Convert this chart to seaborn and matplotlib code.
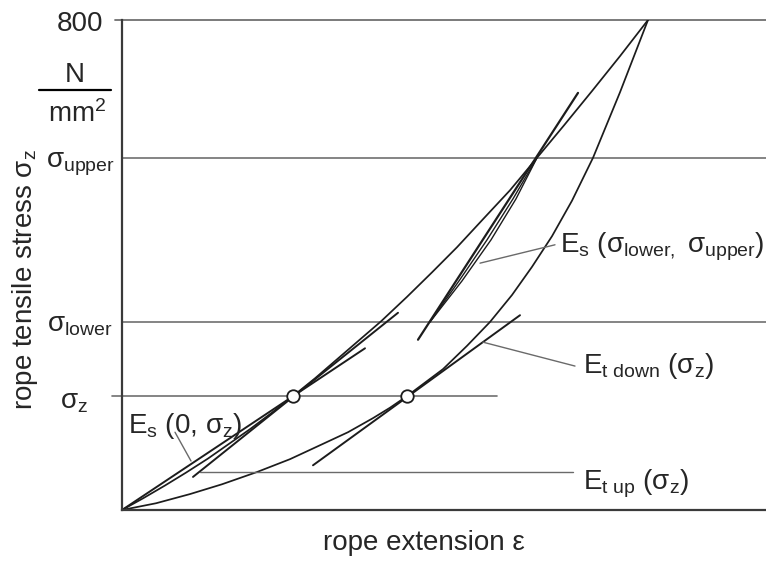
import numpy as np
import pandas as pd
import matplotlib
matplotlib.use("Agg")
import matplotlib.pyplot as plt
import seaborn as sns

# ---- data (schematic) ----
load_x = [0, 0.21, 0.43, 0.64, 0.86, 1.07, 1.28, 1.50, 1.71, 1.93, 2.15, 2.37,
          2.59, 2.85, 3.10, 3.35, 3.60, 3.88, 4.15, 4.42, 4.70, 4.98, 5.26]
load_y = [0, 19, 40, 61, 84, 108, 132, 159, 186, 215, 246, 277,
          308, 348, 388, 429, 473, 522, 575, 628, 684, 741, 800]
unload_x = [0, 0.34, 0.68, 1.00, 1.35, 1.68, 2.01, 2.26, 2.51, 2.68, 2.85, 3.21,
            3.45, 3.68, 3.90, 4.10, 4.30, 4.50, 4.71, 4.98, 5.26]
unload_y = [0, 11, 26, 42, 62, 83, 108, 127, 150, 167, 186, 230,
            268, 307, 351, 397, 447, 505, 575, 682, 800]
loopA_x = [3.08, 3.37, 3.65, 3.91, 4.15]
loopA_y = [307, 374, 441, 508, 575]
loopB_x = [3.08, 3.40, 3.69, 3.94, 4.15]
loopB_y = [307, 374, 441, 508, 575]
tan_up_x = [0.71, 2.76]
tan_up_y = [54, 322]
sec_0z_x = [0, 2.43]
sec_0z_y = [0, 264]
tan_down_x = [1.91, 3.98]
tan_down_y = [73, 318]
sec_lu_x = [2.96, 4.56]
sec_lu_y = [278, 681]
points_x = [1.71, 2.85]
points_y = [186, 186]
sigma_top = 800
sigma_upper = 575
sigma_lower = 307
sigma_z = 186

sns.set_theme(style="white")
plt.rcParams['font.family'] = ['Liberation Sans', 'DejaVu Sans']
plt.rcParams['mathtext.fontset'] = 'custom'
plt.rcParams['mathtext.rm'] = 'Liberation Sans'
plt.rcParams['mathtext.it'] = 'Liberation Sans:italic'
plt.rcParams['mathtext.bf'] = 'Liberation Sans:bold'

fig = plt.figure(figsize=(7.66, 5.61), dpi=100)
ax = fig.add_axes([122/766, 51/561, 644/766, 490/561])
ax.set_xlim(0, 6.44)
ax.set_ylim(0, 800)

rows = []
for name, xs, ys in [("load", load_x, load_y), ("unload", unload_x, unload_y),
                     ("loopA", loopA_x, loopA_y), ("loopB", loopB_x, loopB_y),
                     ("tan_up", tan_up_x, tan_up_y), ("sec0z", sec_0z_x, sec_0z_y),
                     ("tan_down", tan_down_x, tan_down_y), ("seclu", sec_lu_x, sec_lu_y)]:
    for i, (xv, yv) in enumerate(zip(xs, ys)):
        rows.append(dict(curve=name, order=i, eps=xv, sigma=yv))
df = pd.DataFrame(rows)

line_col = "#1c1c1c"
grid_col = "#707070"

# horizontal reference lines
ax.plot([-0.07, 6.44], [sigma_top]*2, color=grid_col, lw=1.3, clip_on=False)
ax.plot([0, 6.44], [sigma_upper]*2, color=grid_col, lw=1.2)
ax.plot([0, 6.44], [sigma_lower]*2, color=grid_col, lw=1.2)
ax.plot([-0.10, 3.75], [sigma_z]*2, color=grid_col, lw=1.2, clip_on=False)

widths = {"load": 1.25, "unload": 1.25, "loopA": 1.0, "loopB": 1.0,
          "tan_up": 1.4, "sec0z": 1.4, "tan_down": 1.4, "seclu": 1.6}
for name, lw in widths.items():
    sub = df[df.curve == name]
    sns.lineplot(data=sub, x="eps", y="sigma", sort=False, estimator=None,
                 color=line_col, lw=lw, ax=ax, legend=False)

ax.plot(points_x, points_y, 'o', ms=9, mfc='white', mec=line_col, mew=1.3, zorder=5)

# leader lines
lead_col = "#6a6a6a"
ax.plot([0.53, 0.69], [127, 80], color=lead_col, lw=1.0)
ax.plot([0.78, 4.51], [62, 62], color=lead_col, lw=1.0)
ax.plot([3.61, 4.53], [274, 235], color=lead_col, lw=1.0)
ax.plot([3.58, 4.33], [403, 433], color=lead_col, lw=1.0)

fs = 20
ax.text(0.06, 126, r'E$_{\mathrm{s}}$ (0, σ$_{\mathrm{z}}$)', fontsize=fs, va='baseline', ha='left')
ax.text(4.38, 421, r'E$_{\mathrm{s}}$ (σ$_{\mathrm{lower,}}$ σ$_{\mathrm{upper}}$)', fontsize=fs, va='baseline', ha='left', clip_on=False)
ax.text(4.61, 224, r'E$_{\mathrm{t\ down}}$ (σ$_{\mathrm{z}}$)', fontsize=fs, va='baseline', ha='left')
ax.text(4.61, 33, r'E$_{\mathrm{t\ up}}$ (σ$_{\mathrm{z}}$)', fontsize=fs, va='baseline', ha='left')

# y-axis labels
xl = -0.42
ax.text(xl, 793, '800', fontsize=fs, ha='center', va='center', clip_on=False)
ax.text(xl - 0.05, 699, 'N', fontsize=fs, ha='center', va='baseline', clip_on=False)
ax.plot([-0.83, -0.11], [686, 686], color='black', lw=1.6, clip_on=False)
ax.text(xl - 0.03, 633, r'mm$^{2}$', fontsize=fs, ha='center', va='baseline', clip_on=False)
ax.text(xl, 560, r'σ$_{\mathrm{upper}}$', fontsize=fs, ha='center', va='baseline', clip_on=False)
ax.text(xl, 292, r'σ$_{\mathrm{lower}}$', fontsize=fs, ha='center', va='baseline', clip_on=False)
ax.text(xl - 0.06, 166, r'σ$_{\mathrm{z}}$', fontsize=fs, ha='center', va='baseline', clip_on=False)

fig.text(25/766, 1 - 279/561, r'rope tensile stress σ$_{\mathrm{z}}$', fontsize=fs,
         rotation=90, ha='center', va='center')
fig.text(424/766, 1 - 543/561, 'rope extension ε', fontsize=fs, ha='center', va='center')

ax.set_xticks([])
ax.set_yticks([])
ax.set_xlabel('')
ax.set_ylabel('')
for s in ['top', 'right']:
    ax.spines[s].set_visible(False)
for s in ['left', 'bottom']:
    ax.spines[s].set_color('#3a3a3a')
    ax.spines[s].set_linewidth(1.6)

fig.savefig('out.png', dpi=100)
